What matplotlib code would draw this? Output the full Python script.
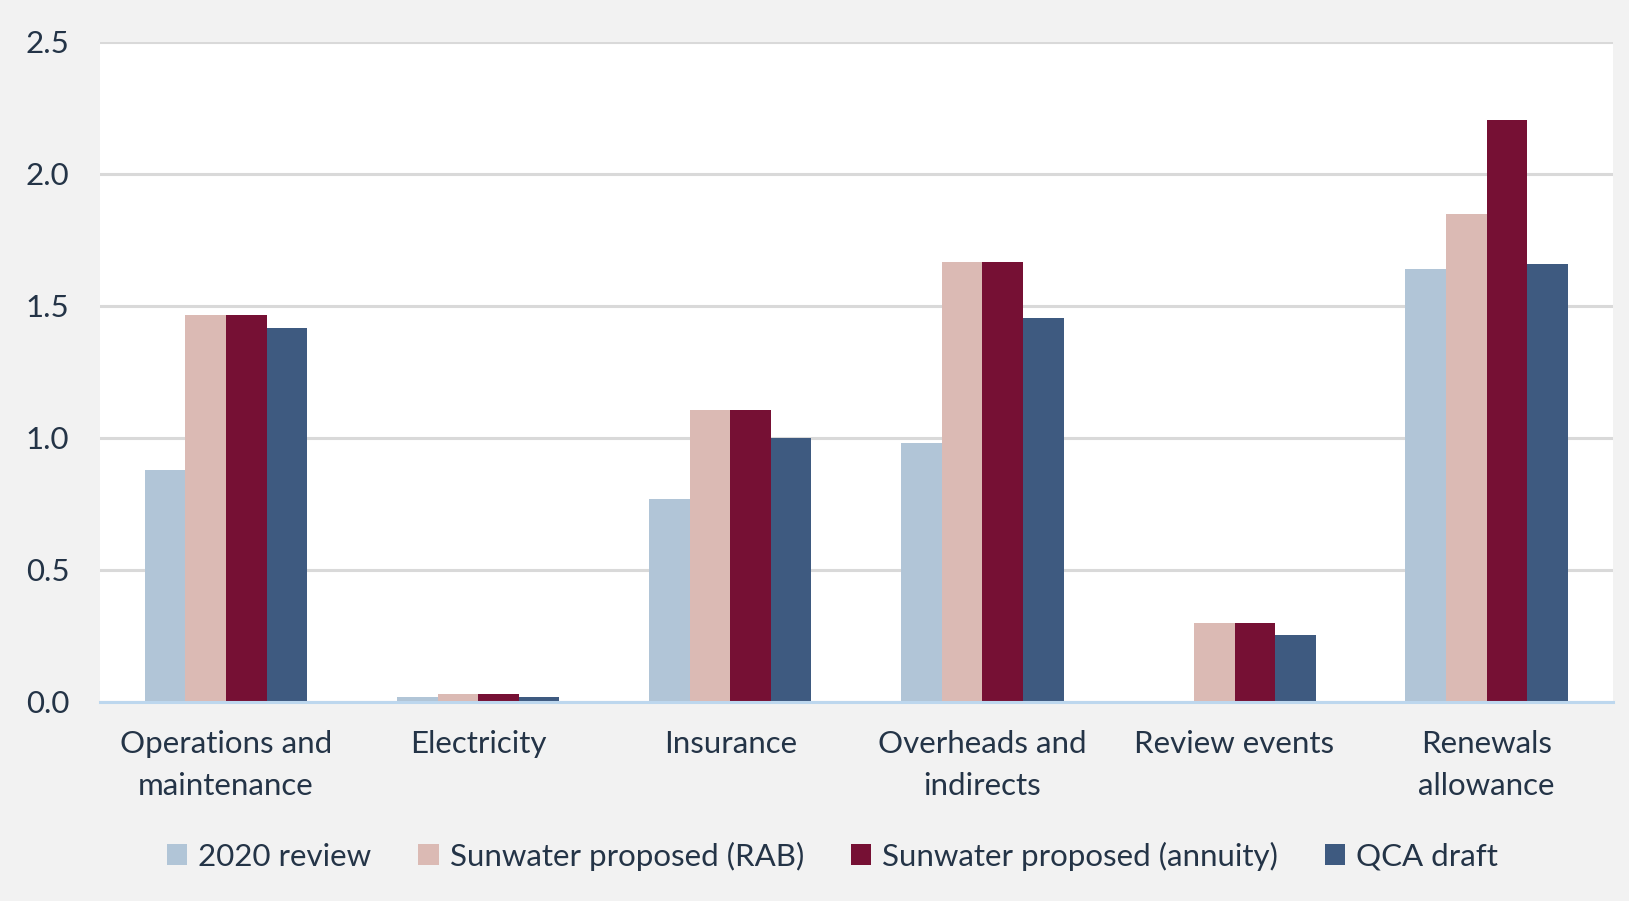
import numpy as np
import matplotlib
matplotlib.use('Agg')
import matplotlib.pyplot as plt

categories = ["Operations and\nmaintenance", "Electricity", "Insurance",
              "Overheads and\nindirects", "Review events", "Renewals\nallowance"]
series_names = ["2020 review", "Sunwater proposed (RAB)",
                "Sunwater proposed (annuity)", "QCA draft"]
review_2020 = [0.88, 0.02, 0.77, 0.98, 0.0, 1.64]
proposed_rab = [1.465, 0.029, 1.106, 1.665, 0.30, 1.85]
proposed_annuity = [1.465, 0.029, 1.106, 1.665, 0.30, 2.205]
qca_draft = [1.417, 0.02, 1.0, 1.453, 0.252, 1.66]
yticks = [0.0, 0.5, 1.0, 1.5, 2.0, 2.5]

colors = ["#b1c5d7", "#dbbab4", "#761034", "#3e5a80"]
txt = "#243447"
plt.rcParams['font.family'] = ['Lato', 'DejaVu Sans']

fig = plt.figure(figsize=(16.29, 9.01), dpi=100, facecolor="#f2f2f2")
ax = fig.add_axes([0.0614, 0.2209, 0.9286, 0.7325])
ax.set_facecolor("white")

x = np.arange(len(categories))
w = 0.161
all_vals = [review_2020, proposed_rab, proposed_annuity, qca_draft]
handles = []
for i, vals in enumerate(all_vals):
    b = ax.bar(x + (i - 1.5) * w, vals, w, color=colors[i], label=series_names[i], zorder=3)
    handles.append(b)

ax.set_xlim(-0.5, len(categories) - 0.5)
ax.set_ylim(0, 2.5)
ax.set_yticks(yticks)
ax.set_yticklabels(["%.1f" % t for t in yticks])
ax.yaxis.grid(True, color="#d9d9d9", linewidth=2.2, zorder=0)
ax.set_axisbelow(True)
for s in ["left", "right", "top"]:
    ax.spines[s].set_visible(False)
ax.spines["bottom"].set_color("#bdd7ee")
ax.spines["bottom"].set_linewidth(2.2)
ax.spines["bottom"].set_zorder(4)

ax.set_xticks(x)
ax.set_xticklabels(categories, fontsize=22.5, color=txt, linespacing=1.6)
ax.tick_params(axis="x", length=0, pad=20)
ax.tick_params(axis="y", length=0, pad=22, labelsize=22.5, labelcolor=txt)

lgd = fig.legend(handles=handles, loc="center", bbox_to_anchor=(0.511, 0.05), ncol=4,
                 frameon=False, fontsize=22.5, handlelength=0.65, handleheight=0.65,
                 handletextpad=0.35, columnspacing=1.5, labelcolor=txt)

plt.savefig("out.png", dpi=100, facecolor=fig.get_facecolor())
